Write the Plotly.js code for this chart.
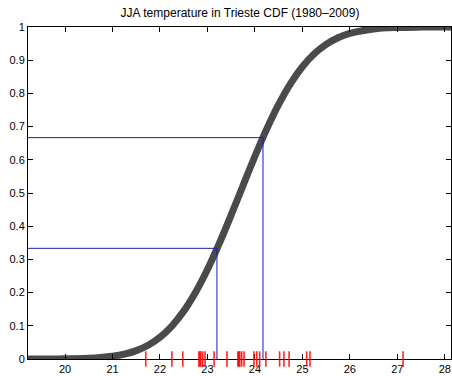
<!DOCTYPE html>
<html>
<head>
<meta charset="utf-8">
<script src="https://cdn.plot.ly/plotly-3.0.1.min.js"></script>
<style>html,body{margin:0;padding:0;background:#fff;}#chart{width:452px;height:376px;}</style>
</head>
<body>
<div id="chart"></div>
<script>
// CDF curve
const cdfX = [19.22, 19.5, 20.0, 20.5, 20.75, 21.0, 21.25, 21.5, 21.75, 22.0, 22.25, 22.5, 22.75, 23.0, 23.25, 23.5, 23.75, 24.0, 24.25, 24.5, 24.75, 25.0, 25.25, 25.5, 25.75, 26.0, 26.5, 27.0, 27.5, 28.13];
const cdfY = [0.0000, 0.0001, 0.0005, 0.0022, 0.0043, 0.0081, 0.0146, 0.0252, 0.0415, 0.0656, 0.0993, 0.1442, 0.2011, 0.2696, 0.3482, 0.4339, 0.5228, 0.6107, 0.6932, 0.7669, 0.8296, 0.8803, 0.9193, 0.9478, 0.9677, 0.9809, 0.9941, 0.9985, 0.9997, 1.0];
// observed summer temperatures (rug)
const obs = [21.70, 22.25, 22.48, 22.82, 22.84, 22.86, 22.90, 22.95, 23.14, 23.41, 23.64, 23.66, 23.68, 23.72, 23.77, 23.98, 24.04, 24.10, 24.23, 24.52, 24.61, 24.72, 25.09, 25.16, 27.12];
// tercile levels and quantiles
const levels = [1/3, 2/3];
const quantiles = [23.20, 24.17];
const xRange = [19.22, 28.13];
const xTicks = [20, 21, 22, 23, 24, 25, 26, 27, 28];
const yTicks = [0, 0.1, 0.2, 0.3, 0.4, 0.5, 0.6, 0.7, 0.8, 0.9, 1];
const yTickText = ['0', '0.1', '0.2', '0.3', '0.4', '0.5', '0.6', '0.7', '0.8', '0.9', '1'];

const traces = [];
traces.push({x: cdfX, y: cdfY, mode: 'lines', line: {color: '#4a4a4a', width: 7, shape: 'spline'}, hoverinfo: 'skip'});
for (let i = 0; i < levels.length; i++) {
  traces.push({x: [xRange[0], quantiles[i], quantiles[i]], y: [levels[i], levels[i], 0], mode: 'lines', line: {color: '#1a1abf', width: 1}, hoverinfo: 'skip'});
}
// rug marks in a thin overlapping strip centred on the x axis
traces.push({x: obs, y: obs.map(() => 0), xaxis: 'x2', yaxis: 'y2', mode: 'markers', cliponaxis: false,
  marker: {symbol: 'line-ns-open', size: 11, color: 'rgba(255,0,0,0.85)', line: {color: 'rgba(255,0,0,0.85)', width: 1.6}}, hoverinfo: 'skip'});

const font = {family: 'Liberation Sans, Arial, Helvetica, sans-serif', size: 11, color: '#000'};
const H = 376, T = 27, B = 9; // plot strip height 340
const off = 8 / (H - T - B);
const layout = {
  width: 452, height: 376,
  margin: {l: 28, r: 1, t: T, b: B, pad: 0},
  paper_bgcolor: '#fff', plot_bgcolor: 'rgba(0,0,0,0)',
  showlegend: false,
  font: font,
  title: {text: 'JJA temperature in Trieste CDF (1980\u20132009)', font: {family: font.family, size: 12, color: '#000'}, x: 0.531, xanchor: 'center', y: 0.966, yanchor: 'middle'},
  xaxis: {range: xRange, tickvals: xTicks, ticktext: xTicks.map(String), ticks: 'inside', ticklen: 5, tickcolor: '#000',
    showline: true, linecolor: '#000', linewidth: 1, mirror: 'ticks', showgrid: false, zeroline: false, tickfont: font, anchor: 'y'},
  yaxis: {domain: [off, 1], range: [0, 1], tickvals: yTicks, ticktext: yTickText, ticks: 'inside', ticklen: 5, tickcolor: '#000',
    showline: true, linecolor: '#000', linewidth: 1, mirror: 'ticks', showgrid: false, zeroline: false, tickfont: font, anchor: 'x'},
  xaxis2: {range: xRange, matches: 'x', visible: false, anchor: 'y2', showgrid: false, zeroline: false},
  yaxis2: {domain: [0, 2 * off], range: [-1, 1], visible: false, anchor: 'x2', showgrid: false, zeroline: false}
};
Plotly.newPlot('chart', traces, layout, {staticPlot: true, displayModeBar: false});
</script>
</body>
</html>
